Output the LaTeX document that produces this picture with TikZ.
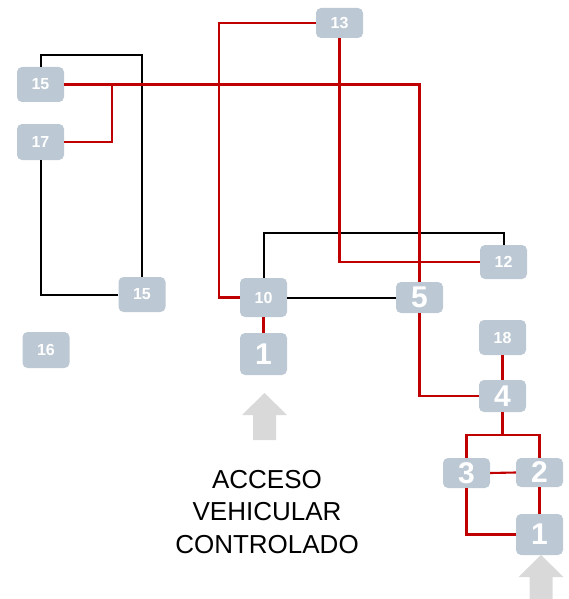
\documentclass[tikz,border=0pt]{standalone}
\usepackage{fontspec}
\setmainfont{Liberation Sans}
\setsansfont{Liberation Sans}
\usetikzlibrary{calc}

\definecolor{boxgray}{RGB}{188,201,212}
\definecolor{linered}{RGB}{192,0,0}
\definecolor{arrowgray}{RGB}{217,217,217}

\tikzset{
  box/.style={fill=boxgray, rounded corners=5pt, minimum width=47pt, inner sep=0pt,
    text=white, font=\sffamily\bfseries\fontsize{16}{16}\selectfont},
  bigbox/.style={box, font=\sffamily\bfseries\fontsize{30}{30}\selectfont},
  redline/.style={draw=linered, line width=2.1pt},
  blackline/.style={draw=black, line width=2pt}
}

\begin{document}
\begin{tikzpicture}[x=1pt,y=-1pt]

\useasboundingbox (0,0) rectangle (568,599);

% boxes
\node(b15a) at (40.5,84.5) [box, minimum height=35pt]{15};
\node(b17) at (40.5,142) [box, minimum height=36pt]{17};
\node(b15b) at (142,294.5) [box, minimum height=35pt]{15};
\node(b16) at (46,350) [box, minimum height=36pt]{16};
\node(b13) at (339.5,23) [box, minimum height=30pt]{13};
\node(b10) at (263.5,297.5) [box, minimum height=39pt]{10};
\node(b1a) at (263.5,354) [bigbox, minimum height=42pt]{1};
\node(b12) at (503.5,262) [box, minimum height=34pt]{12};
\node(b5) at (419.5,297.5) [bigbox, minimum height=31pt]{5};
\node(b18) at (502.5,337.5) [box, minimum height=35pt]{18};
\node(b4) at (502.5,396) [bigbox, minimum height=32pt]{4};
\node(b3) at (466.5,473) [bigbox, minimum height=30pt]{3};
\node(b2) at (539.5,472.5) [bigbox, minimum height=29pt]{2};
\node(b1b) at (539.5,534.5) [bigbox, minimum height=41pt]{1};

\coordinate (j17) at (112,84.5);

% black links
\draw[blackline] (b15a.north) -- ++(0,-12) -| (b15b.north);
\draw[blackline] (b17.south) |- (b15b.west);
\draw[blackline] (b10.north) -- ++(0,-45) -| (b12.north);
\draw[blackline] (b10.east) -- (b5.west);

% red links
\draw[redline] (b15a.east) -| (b5.north);
\draw[redline] (b17.east) -| (j17);
\draw[redline] (b13.west) -| ([xshift=-21pt]b10.west) -- (b10.west);
\draw[redline] (b13.south) |- (b12.west);
\draw[redline] (b10.south) -- (b1a.north);
\draw[redline] (b5.south) |- (b4.west);
\draw[redline] (b18.south) -- (b4.north);
\draw[redline] (b4.south) -- ++(0,23) -| (b3.north);
\draw[redline] (b4.south) -- ++(0,23) -| (b2.north);
\draw[redline] (b3.east) -- (b2.west);
\draw[redline] (b2.south) -- (b1b.north);
\draw[redline] (b3.south) |- (b1b.west);

% access arrows
\foreach \ax/\ay/\al in {264.5/393/47, 541/555/44} {
    \fill[arrowgray] (\ax-11.5,\ay+\al) -- (\ax-11.5,\ay+22) -- (\ax-22.5,\ay+22)
        -- (\ax,\ay) -- (\ax+22.5,\ay+22) -- (\ax+11.5,\ay+22) -- (\ax+11.5,\ay+\al) -- cycle;
}

\node(acceso) at (267,512) [align=center, font=\fontsize{26}{32.5}\selectfont]{ACCESO\\VEHICULAR\\CONTROLADO};

\end{tikzpicture}
\end{document}
